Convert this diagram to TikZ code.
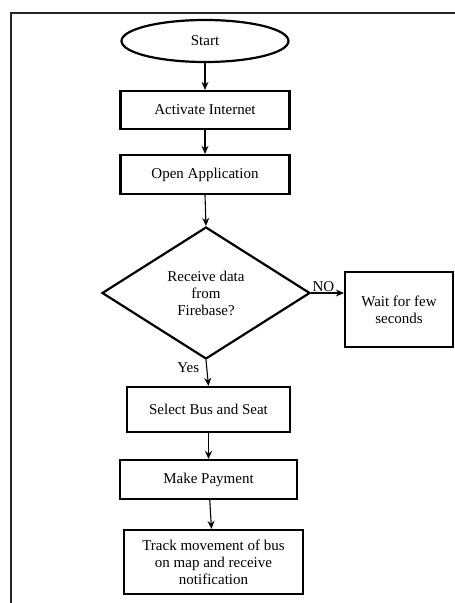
\documentclass[tikz,border=0pt]{standalone}
\usepackage{fontspec}
\setmainfont{Liberation Serif}
\usetikzlibrary{shapes.geometric,arrows.meta}

\tikzset{
  procbox/.style={draw, rectangle, line width=2.2pt, inner sep=0pt, align=center},
  startbox/.style={draw, ellipse, line width=2.2pt, inner sep=0pt},
  decbox/.style={draw, diamond, line width=2.2pt, inner sep=0pt, align=center},
  flowarrow/.style={-{Stealth[length=8pt,width=7pt]}, line width=1.1pt}
}

\begin{document}
\begin{tikzpicture}[x=1pt, y=-1pt, font=\fontsize{15}{17}\selectfont]
    \useasboundingbox (0,0) rectangle (455,603);
    % frame
    \draw[line width=2pt, black!85] (10.5,603) -- (10.5,12.5) -- (455,12.5);

    \node[startbox, minimum width=167pt, minimum height=42pt] (start) at (205,41) {Start};
    \node[procbox, minimum width=169pt, minimum height=38pt] (internet) at (205,110) {Activate Internet};
    \node[procbox, minimum width=169pt, minimum height=39pt] (openapp) at (205,174.5) {Open Application};
    \node[decbox, minimum width=208pt, minimum height=132pt] (receive) at (206,293) {Receive data\\from\\Firebase?};
    \node[procbox, minimum width=108pt, minimum height=75pt] (wait) at (399,309.5) {Wait for few\\seconds};
    \node[procbox, minimum width=163pt, minimum height=45pt] (select) at (208.5,409.5) {Select Bus and Seat};
    \node[procbox, minimum width=177pt, minimum height=39pt] (payment) at (208.5,479.5) {Make Payment};
    \node[procbox, minimum width=179pt, minimum height=64pt] (track) at (213.5,562) {Track movement of bus\\on map and receive\\notification};

    \draw[flowarrow] (start) -- (internet);
    \draw[flowarrow] (internet) -- (openapp);
    \draw[flowarrow] (openapp.south) -- (receive.north);
    \draw[flowarrow] (receive.east) -- (receive.east -| wait.west) node[pos=0, above right, inner sep=1pt] {NO};
    \draw[flowarrow] (receive.south) -- (select.north) node[pos=0.3, left, inner sep=7pt] {Yes};
    \draw[flowarrow] (select) -- (payment);
    \draw[flowarrow] (payment) -- (track);
\end{tikzpicture}
\end{document}
